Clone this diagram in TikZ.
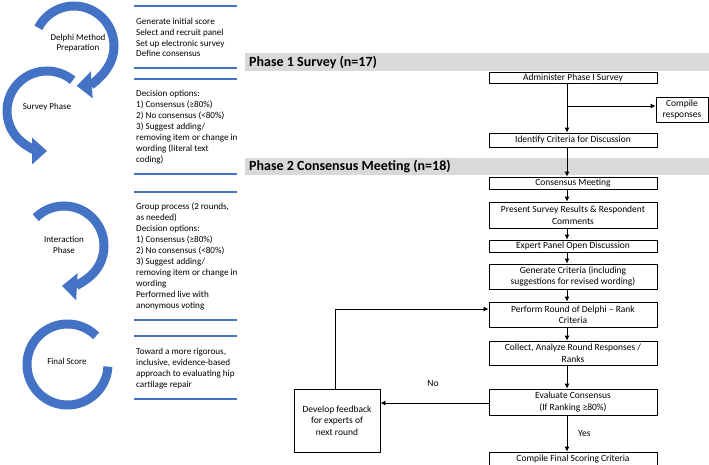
\documentclass[tikz,border=0pt]{standalone}
\usepackage{fontspec}
\setmainfont{Carlito}
\usetikzlibrary{arrows.meta}
\definecolor{phaseblue}{HTML}{4472C4}
\definecolor{bargray}{HTML}{D9D9D9}
\tikzset{
  ring/.style={draw=phaseblue, line width=9pt},
  bluerule/.style={draw=phaseblue, line width=2.5pt},
  note/.style={anchor=west, align=left, inner sep=0pt, font=\fontsize{9.1}{10.9}\selectfont},
  ringlabel/.style={align=center, inner sep=0pt, font=\fontsize{9}{10.5}\selectfont},
  phasebar/.style={fill=bargray},
  bartitle/.style={anchor=west, inner sep=0pt, font=\bfseries\fontsize{14}{16}\selectfont},
  flowbox/.style={draw, line width=0.8pt, minimum width=168pt, align=center, inner sep=1pt, font=\fontsize{9.5}{11.5}\selectfont},
  flowarrow/.style={line width=0.9pt, -{Latex[length=5pt,width=5pt]}},
  flowlabel/.style={inner sep=0pt, font=\fontsize{9.5}{11}\selectfont},
}
\begin{document}
\begin{tikzpicture}[x=1pt,y=1pt]
  \useasboundingbox (0,0) rectangle (709,-465);

  \draw[ring,-{Triangle[width=26pt,length=15pt]}] (74,-46) ++(153:40) arc[start angle=153,end angle=-86,radius=40];
  \draw[ring,-{Triangle[width=26pt,length=15pt]}] (47,-111) ++(50:40) arc[start angle=50,end angle=270,radius=40];
  \draw[ring,-{Triangle[width=26pt,length=15pt]}] (64,-246) ++(135:40) arc[start angle=135,end angle=-93,radius=40];
  \draw[ring] (67.5,-364.5) ++(45:40.5) arc[start angle=45,end angle=357,radius=40.5];

  \node[ringlabel] (prep) at (78,-43) {Delphi Method\\Preparation};
  \node[ringlabel] (survey) at (47,-107) {Survey Phase};
  \node[ringlabel] (interaction) at (64,-245) {Interaction\\Phase};
  \node[ringlabel] (finalscore) at (67,-361) {Final Score};

  \foreach \y in {6,68,79,174,192,320,336,399}
    \draw[bluerule] (134,-\y) -- (237,-\y);

  \node[note] (prepnote) at (136,-37.5) {Generate initial score\\Select and recruit panel\\Set up electronic survey\\Define consensus};
  \node[note] (surveynote) at (136,-127) {Decision options:\\1) Consensus (≥80\%)\\2) No consensus (<80\%)\\3) Suggest adding/\\removing item or change in\\wording (literal text\\coding)};
  \node[note] (interactionnote) at (136,-256.5) {Group process (2 rounds,\\as needed)\\Decision options:\\1) Consensus (≥80\%)\\2) No consensus (<80\%)\\3) Suggest adding/\\removing item or change in\\wording\\Performed live with\\anonymous voting};
  \node[note] (finalnote) at (136,-368.5) {Toward a more rigorous,\\inclusive, evidence-based\\approach to evaluating hip\\cartilage repair};

  \fill[phasebar] (245,-53) rectangle (709,-71);
  \node[bartitle] (phase1) at (249,-62) {Phase 1 Survey (n=17)};
  \fill[phasebar] (245,-158) rectangle (709,-175);
  \node[bartitle] (phase2) at (249,-166.5) {Phase 2 Consensus Meeting (n=18)};

  \node[flowbox, minimum height=11pt] (admin) at (573,-78) {Administer Phase I Survey};
  \node[flowbox, minimum width=52pt, minimum height=25pt] (compile) at (682,-109.5) {Compile\\responses};
  \node[flowbox, minimum height=14pt] (ident) at (573,-140) {Identify Criteria for Discussion};
  \node[flowbox, minimum height=12pt] (meet) at (573,-183) {Consensus Meeting};
  \node[flowbox, minimum height=26pt] (pres) at (573,-215) {Present Survey Results \& Respondent\\Comments};
  \node[flowbox, minimum height=12pt] (expert) at (573,-246) {Expert Panel Open Discussion};
  \node[flowbox, minimum height=25pt] (gen) at (573,-276.5) {Generate Criteria (including\\suggestions for revised wording)};
  \node[flowbox, minimum height=25pt] (round) at (573,-314.5) {Perform Round of Delphi – Rank\\Criteria};
  \node[flowbox, minimum height=24pt] (collect) at (573,-353) {Collect, Analyze Round Responses /\\Ranks};
  \node[flowbox, minimum height=26pt] (eval) at (573,-402) {Evaluate Consensus\\(If Ranking ≥80\%)};
  \node[flowbox, minimum height=14pt] (final) at (573,-459) {Compile Final Scoring Criteria};
  \node[flowbox, minimum width=86pt, minimum height=63pt] (feedback) at (337,-420.5) {Develop feedback\\for experts of\\next round};

  \coordinate (spine) at (567,0);
  \coordinate (fork) at (567,-106);
  \foreach \a/\b in {admin/ident,ident/meet,meet/pres,pres/expert,expert/gen,gen/round,round/collect,collect/eval,eval/final}
    \draw[flowarrow] (\a.south -| spine) -- (\b.north -| spine);
  \draw[flowarrow] (fork) -- (fork -| compile.west);
  \draw[flowarrow] ([yshift=-1pt]eval.west) -- ([yshift=-1pt]eval.west -| feedback.east);
  \draw[flowarrow] ([xshift=-2pt]feedback.north) |- ([yshift=5.5pt]round.west);

  \node[flowlabel] (no) at (433,-383) {No};
  \node[flowlabel, anchor=west] (yes) at (578,-433) {Yes};
\end{tikzpicture}
\end{document}
